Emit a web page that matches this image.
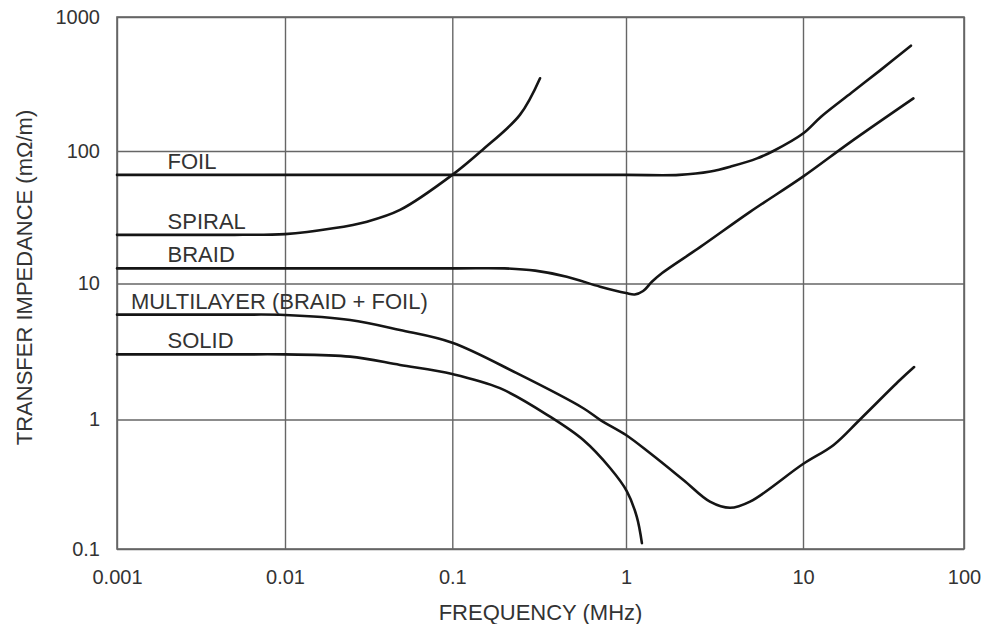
<!DOCTYPE html>
<html>
<head>
<meta charset="utf-8">
<script src="https://cdn.jsdelivr.net/npm/d3@7"></script>
<style>
  body { margin: 0; background: #fff; }
  text { font-family: "Liberation Sans", Arial, Helvetica, sans-serif; fill: #333; }
</style>
</head>
<body>
<div id="chart"></div>
<script>
const width = 984;
const height = 624;

// decade gridlines (the source drawing is not perfectly even)
const xTicks = [0.001, 0.01, 0.1, 1, 10, 100];
const yTicks = [0.1, 1, 10, 100, 1000];
const xTickLabels = ["0.001", "0.01", "0.1", "1", "10", "100"];
const yTickLabels = ["0.1", "1", "10", "100", "1000"];

// [frequency MHz, transfer impedance mOhm/m]
const foil = [
  [0.001, 66], [0.1, 66], [1, 66], [2, 66], [3, 70], [4, 77], [5.5, 88],
  [6.8, 100], [10, 135], [13, 181], [20, 272], [30, 398], [46.8, 611],
];
const spiral = [
  [0.001, 23.3], [0.005, 23.3], [0.01, 23.6], [0.0194, 26.1], [0.0309, 29.3],
  [0.0487, 35.9], [0.1, 66], [0.148, 101], [0.245, 186], [0.32, 349],
];
const braid = [
  [0.001, 13], [0.1, 13], [0.2, 13], [0.3, 12.5], [0.456, 11.25], [0.71, 9.47],
  [1.0, 8.5], [1.12, 8.3], [1.25, 8.8], [1.4, 10.3], [1.6, 12.0], [2.62, 18.8],
  [5.02, 34.7], [10, 64], [19.6, 116], [48.5, 247],
];
const multilayer = [
  [0.001, 5.9], [0.005, 5.9], [0.01, 5.87], [0.0245, 5.39], [0.0487, 4.55],
  [0.1, 3.67], [0.235, 2.19], [0.568, 1.21], [0.713, 0.99], [1, 0.759],
  [1.37, 0.548], [2.11, 0.341], [2.98, 0.232], [3.87, 0.208], [5.02, 0.232],
  [10, 0.453], [15.5, 0.636], [22.6, 1.0], [40, 1.95], [49, 2.43],
];
const solid = [
  [0.001, 3.01], [0.005, 3.01], [0.01, 3.01], [0.0245, 2.9], [0.0487, 2.52],
  [0.1, 2.16], [0.188, 1.7], [0.365, 1.05], [0.568, 0.694], [0.812, 0.42],
  [1.01, 0.28], [1.15, 0.178], [1.23, 0.111],
];

const seriesNames = ["FOIL", "SPIRAL", "BRAID", "MULTILAYER (BRAID + FOIL)", "SOLID"];
const seriesData = [foil, spiral, braid, multilayer, solid];
const labelFreq = [0.002, 0.002, 0.002, 0.00121, 0.002];

const plot = { left: 117, right: 964, top: 17, bottom: 549 };

// piecewise log scales so every decade line sits where the drawing has it
const x = d3
  .scaleLog()
  .domain(xTicks)
  .range([plot.left, 285, 452.3, 626, 803, plot.right]);

const y = d3
  .scaleLog()
  .domain(yTicks)
  .range([plot.bottom, 419.5, 283.5, 151, plot.top]);

const svg = d3
  .select("#chart")
  .append("svg")
  .attr("width", width)
  .attr("height", height);

const gridColor = "#666";

svg
  .append("g")
  .attr("class", "x-axis")
  .attr("transform", `translate(0, ${plot.bottom})`)
  .call(
    d3
      .axisBottom(x)
      .tickValues(xTicks)
      .tickFormat((d, i) => xTickLabels[i])
      .tickSize(-(plot.bottom - plot.top))
      .tickPadding(21)
  )
  .call((g) => g.select(".domain").remove())
  .call((g) => g.selectAll("line").attr("stroke", gridColor).attr("stroke-width", 1.4))
  .call((g) =>
    g.selectAll("text").attr("font-size", "20px").attr("fill", "#333")
  );

svg
  .append("g")
  .attr("class", "y-axis")
  .attr("transform", `translate(${plot.left}, 0)`)
  .call(
    d3
      .axisLeft(y)
      .tickValues(yTicks)
      .tickFormat((d, i) => yTickLabels[i])
      .tickSize(-(plot.right - plot.left))
      .tickPadding(17)
  )
  .call((g) => g.select(".domain").remove())
  .call((g) => g.selectAll("line").attr("stroke", gridColor).attr("stroke-width", 1.4))
  .call((g) =>
    g.selectAll("text").attr("font-size", "20px").attr("fill", "#333")
  );

svg
  .append("rect")
  .attr("x", plot.left)
  .attr("y", plot.top)
  .attr("width", plot.right - plot.left)
  .attr("height", plot.bottom - plot.top)
  .attr("fill", "none")
  .attr("stroke", gridColor)
  .attr("stroke-width", 1.6);

const line = d3
  .line()
  .x((d) => x(d[0]))
  .y((d) => y(d[1]))
  .curve(d3.curveCatmullRom.alpha(0.5));

svg
  .append("g")
  .attr("class", "curves")
  .selectAll("path")
  .data(seriesData)
  .join("path")
  .attr("d", line)
  .attr("fill", "none")
  .attr("stroke", "#151515")
  .attr("stroke-width", 2.6)
  .attr("stroke-linecap", "round")
  .attr("stroke-linejoin", "round");

svg
  .append("g")
  .attr("class", "labels")
  .selectAll("text")
  .data(seriesNames)
  .join("text")
  .attr("x", (d, i) => x(labelFreq[i]))
  .attr("y", (d, i) => y(seriesData[i][0][1]) - 6)
  .attr("font-size", "22px")
  .text((d) => d);

svg
  .append("text")
  .attr("x", (plot.left + plot.right) / 2)
  .attr("y", 620)
  .attr("text-anchor", "middle")
  .attr("font-size", "22px")
  .text("FREQUENCY (MHz)");

svg
  .append("text")
  .attr("transform", `translate(32, ${(108 + 447) / 2}) rotate(-90)`)
  .attr("text-anchor", "middle")
  .attr("font-size", "22px")
  .text("TRANSFER IMPEDANCE (mΩ/m)");
</script>
</body>
</html>
